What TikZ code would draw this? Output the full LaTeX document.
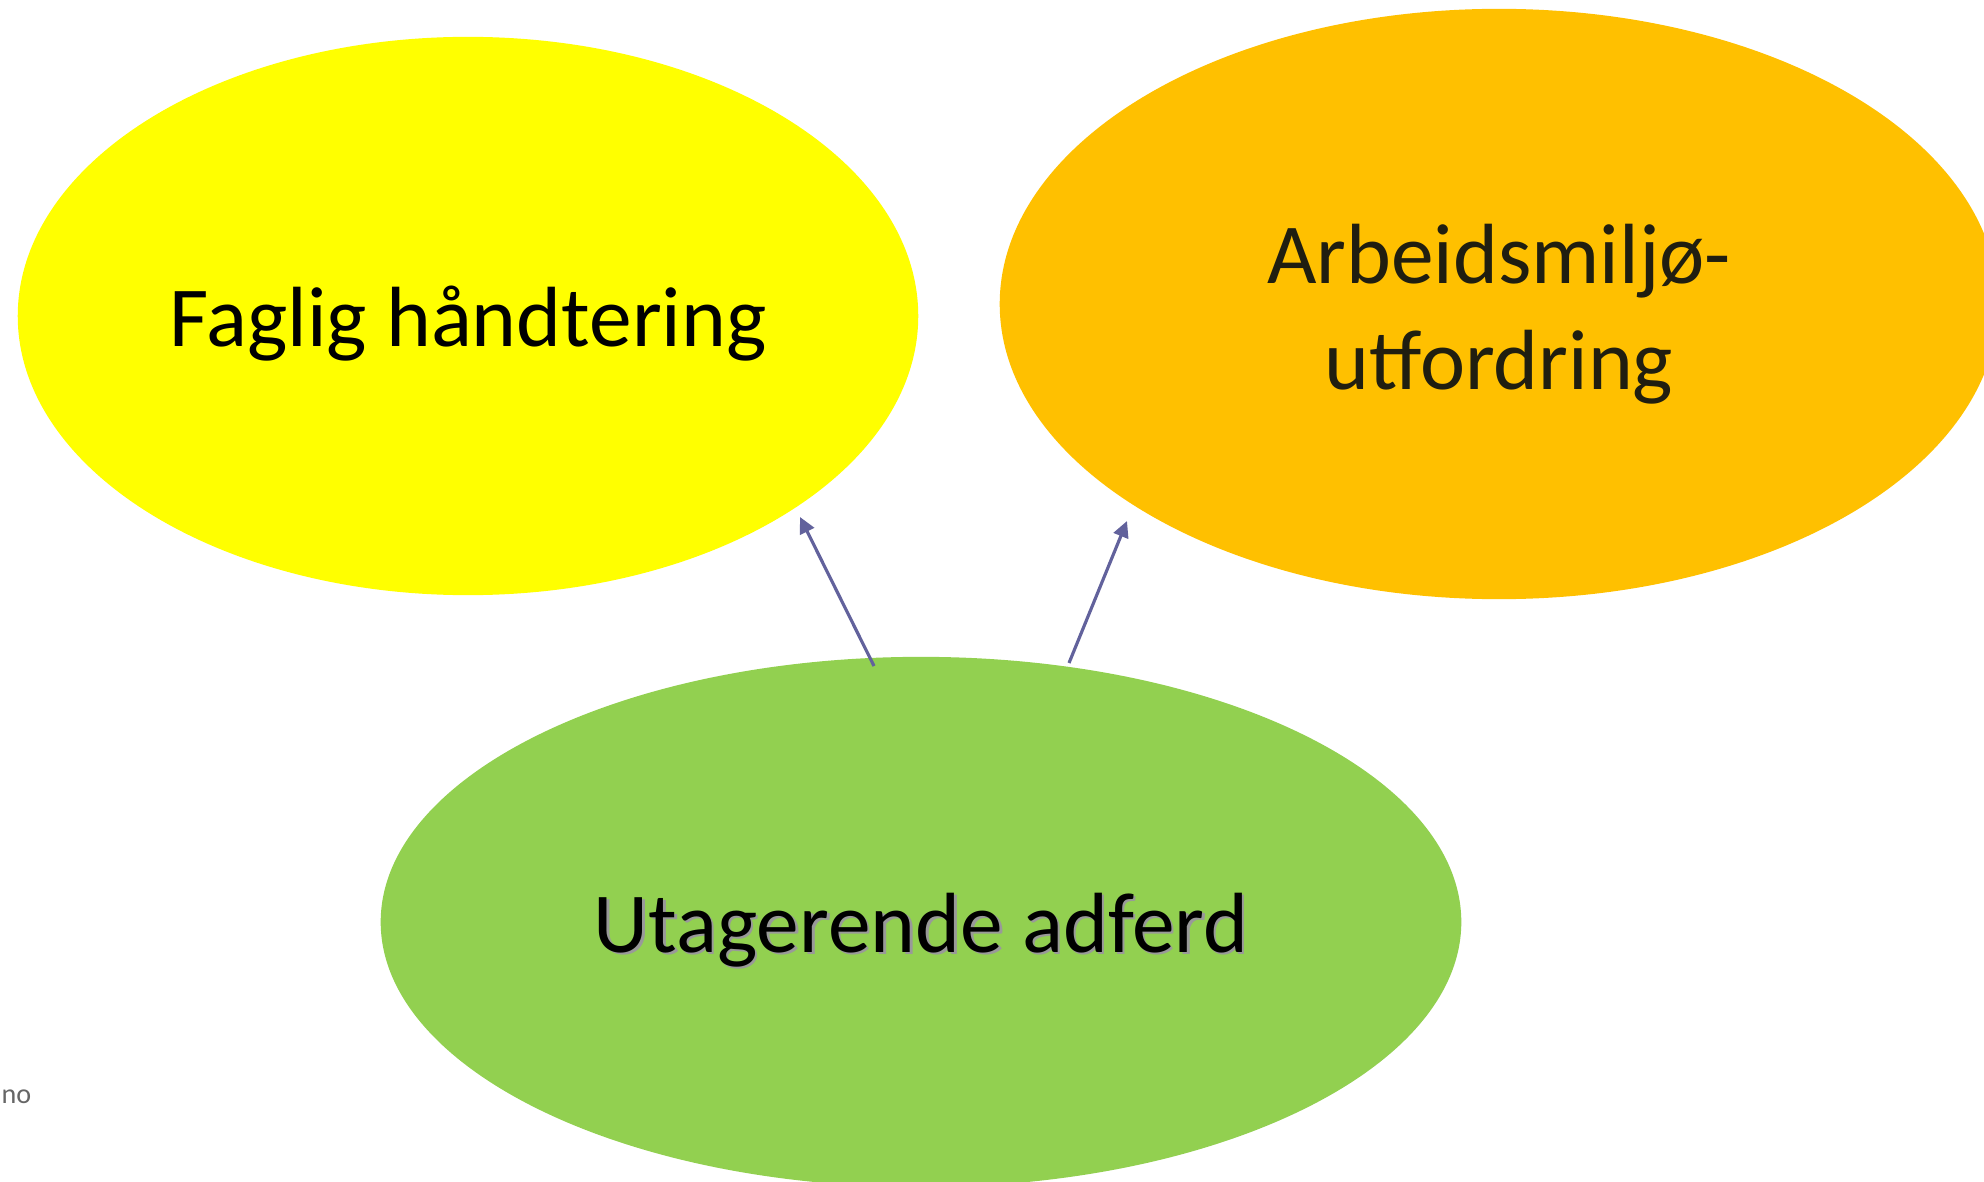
\documentclass[tikz,border=0pt]{standalone}
\usepackage{fontspec}
\setmainfont{Carlito}
\usetikzlibrary{shapes.geometric,arrows.meta}
\definecolor{gul}{HTML}{FFFF00}
\definecolor{oransje}{HTML}{FFC000}
\definecolor{gronn}{HTML}{92D050}
\definecolor{pil}{HTML}{62629C}
\definecolor{mork}{HTML}{201E10}
\tikzset{
  blob/.style={ellipse, inner sep=0pt, draw=none},
  tekst/.style={align=center, font=\fontsize{24.3}{30}\selectfont},
  pilen/.style={pil, line width=0.9pt, -{Triangle[length=4.6pt,width=4.4pt]}}
}
\begin{document}
\begin{tikzpicture}[x=0.01cm, y=-0.01cm]
  \useasboundingbox (0,0) rectangle (1984,1182);
  \node[blob, fill=gul, minimum width=9cm, minimum height=5.58cm] (faglig) at (468,316) {};
  \node[blob, fill=oransje, minimum width=9.98cm, minimum height=5.9cm] (miljo) at (1499,304) {};
  \node[blob, fill=gronn, minimum width=10.8cm, minimum height=5.3cm] (adferd) at (921,922) {};
  \node[tekst] at ([shift={(0,8)}]faglig) {Faglig håndtering};
  \node[tekst, text=mork] at ([shift={(0,10)}]miljo) {Arbeidsmiljø-\\utfordring};
  \node[tekst, text=black!40] at ([shift={(2.5,10.5)}]adferd) {Utagerende adferd};
  \node[tekst] at ([shift={(0,8)}]adferd) {Utagerende adferd};
  \coordinate (ut1) at (874,666);
  \coordinate (inn1) at (800,517);
  \coordinate (ut2) at (1069,663);
  \coordinate (inn2) at (1127,521);
  \draw[pilen] (ut1) -- (inn1);
  \draw[pilen] (ut2) -- (inn2);
  \node[anchor=west, text=black!60, font=\fontsize{8}{9}\selectfont, inner sep=0pt] (kilde) at (1,1097) {no};
\end{tikzpicture}
\end{document}
